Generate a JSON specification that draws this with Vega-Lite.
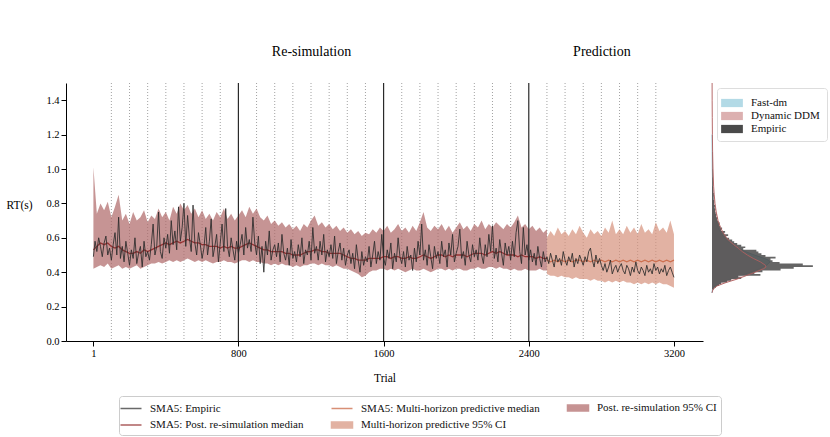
{
  "$schema": "https://vega.github.io/schema/vega-lite/v6.json",
  "padding": {"left": 5, "top": 44, "right": 0, "bottom": 5},
  "bounds": "flush",
  "spacing": 9,
  "config": {
    "font": "Liberation Serif",
    "view": {"stroke": null},
    "axis": {"labelFont": "Liberation Serif", "titleFont": "Liberation Serif", "labelFontSize": 10.5, "titleFontSize": 11.5, "titleFontWeight": "normal", "labelColor": "#000", "titleColor": "#000", "domainColor": "#000", "tickColor": "#000", "grid": false, "tickSize": 5, "labelPadding": 2, "domainWidth": 1, "tickWidth": 1},
    "legend": {"labelFont": "Liberation Serif", "labelFontSize": 11, "labelColor": "#111", "labelLimit": 400}
  },
  "resolve": {"scale": {"color": "independent", "fill": "independent"}, "legend": {"color": "independent", "fill": "independent"}},
  "datasets": {
    "dotted": [{"t":100},{"t":200},{"t":300},{"t":400},{"t":500},{"t":600},{"t":700},{"t":900},{"t":1000},{"t":1100},{"t":1200},{"t":1300},{"t":1400},{"t":1500},{"t":1700},{"t":1800},{"t":1900},{"t":2000},{"t":2100},{"t":2200},{"t":2300},{"t":2500},{"t":2600},{"t":2700},{"t":2800},{"t":2900},{"t":3000},{"t":3100}],
    "solid": [{"t":800},{"t":1600},{"t":2400}],
    "phases": [{"t":1200},{"t":2800}],
    "resim": [
      {"t":1,"med":0.53,"lo":0.42,"hi":1.01},{"t":20,"med":0.55,"lo":0.43,"hi":0.74},{"t":40,"med":0.57,"lo":0.44,"hi":0.80},{"t":60,"med":0.56,"lo":0.43,"hi":0.76},{"t":80,"med":0.57,"lo":0.45,"hi":0.81},{"t":100,"med":0.55,"lo":0.42,"hi":0.72},{"t":120,"med":0.54,"lo":0.43,"hi":0.78},{"t":140,"med":0.55,"lo":0.44,"hi":0.85},{"t":160,"med":0.53,"lo":0.42,"hi":0.70},{"t":180,"med":0.52,"lo":0.43,"hi":0.74},
      {"t":200,"med":0.51,"lo":0.42,"hi":0.68},{"t":220,"med":0.51,"lo":0.43,"hi":0.75},{"t":240,"med":0.52,"lo":0.44,"hi":0.70},{"t":260,"med":0.51,"lo":0.42,"hi":0.72},{"t":280,"med":0.53,"lo":0.43,"hi":0.76},{"t":300,"med":0.52,"lo":0.44,"hi":0.69},{"t":320,"med":0.53,"lo":0.45,"hi":0.73},{"t":340,"med":0.54,"lo":0.45,"hi":0.71},{"t":360,"med":0.55,"lo":0.46,"hi":0.77},{"t":380,"med":0.56,"lo":0.45,"hi":0.72},
      {"t":400,"med":0.57,"lo":0.46,"hi":0.75},{"t":420,"med":0.56,"lo":0.47,"hi":0.70},{"t":440,"med":0.57,"lo":0.46,"hi":0.78},{"t":460,"med":0.58,"lo":0.47,"hi":0.74},{"t":480,"med":0.57,"lo":0.46,"hi":0.80},{"t":500,"med":0.58,"lo":0.47,"hi":0.76},{"t":520,"med":0.59,"lo":0.48,"hi":0.79},{"t":540,"med":0.58,"lo":0.47,"hi":0.74},{"t":560,"med":0.57,"lo":0.46,"hi":0.77},{"t":580,"med":0.57,"lo":0.47,"hi":0.72},
      {"t":600,"med":0.56,"lo":0.46,"hi":0.76},{"t":620,"med":0.56,"lo":0.47,"hi":0.71},{"t":640,"med":0.55,"lo":0.46,"hi":0.74},{"t":660,"med":0.55,"lo":0.45,"hi":0.70},{"t":680,"med":0.55,"lo":0.46,"hi":0.75},{"t":700,"med":0.54,"lo":0.46,"hi":0.72},{"t":720,"med":0.55,"lo":0.47,"hi":0.77},{"t":740,"med":0.54,"lo":0.46,"hi":0.71},{"t":760,"med":0.55,"lo":0.46,"hi":0.74},{"t":780,"med":0.54,"lo":0.45,"hi":0.70},
      {"t":800,"med":0.54,"lo":0.46,"hi":0.73},{"t":820,"med":0.55,"lo":0.47,"hi":0.76},{"t":840,"med":0.56,"lo":0.47,"hi":0.72},{"t":860,"med":0.57,"lo":0.46,"hi":0.78},{"t":880,"med":0.56,"lo":0.47,"hi":0.74},{"t":900,"med":0.55,"lo":0.46,"hi":0.77},{"t":920,"med":0.54,"lo":0.46,"hi":0.72},{"t":940,"med":0.53,"lo":0.45,"hi":0.70},{"t":960,"med":0.53,"lo":0.45,"hi":0.73},{"t":980,"med":0.52,"lo":0.44,"hi":0.68},
      {"t":1000,"med":0.52,"lo":0.45,"hi":0.70},{"t":1020,"med":0.52,"lo":0.44,"hi":0.67},{"t":1040,"med":0.52,"lo":0.45,"hi":0.69},{"t":1060,"med":0.51,"lo":0.44,"hi":0.66},{"t":1080,"med":0.51,"lo":0.44,"hi":0.68},{"t":1100,"med":0.50,"lo":0.43,"hi":0.65},{"t":1120,"med":0.50,"lo":0.44,"hi":0.67},{"t":1140,"med":0.50,"lo":0.43,"hi":0.64},{"t":1160,"med":0.51,"lo":0.44,"hi":0.68},{"t":1180,"med":0.52,"lo":0.44,"hi":0.66},
      {"t":1200,"med":0.52,"lo":0.45,"hi":0.70},{"t":1220,"med":0.53,"lo":0.45,"hi":0.73},{"t":1240,"med":0.53,"lo":0.44,"hi":0.67},{"t":1260,"med":0.52,"lo":0.45,"hi":0.69},{"t":1280,"med":0.52,"lo":0.44,"hi":0.66},{"t":1300,"med":0.51,"lo":0.44,"hi":0.68},{"t":1320,"med":0.51,"lo":0.43,"hi":0.65},{"t":1340,"med":0.51,"lo":0.44,"hi":0.67},{"t":1360,"med":0.51,"lo":0.43,"hi":0.64},{"t":1380,"med":0.50,"lo":0.42,"hi":0.66},
      {"t":1400,"med":0.49,"lo":0.42,"hi":0.63},{"t":1420,"med":0.48,"lo":0.41,"hi":0.65},{"t":1440,"med":0.48,"lo":0.40,"hi":0.62},{"t":1460,"med":0.47,"lo":0.39,"hi":0.64},{"t":1480,"med":0.47,"lo":0.37,"hi":0.61},{"t":1500,"med":0.47,"lo":0.38,"hi":0.63},{"t":1520,"med":0.48,"lo":0.40,"hi":0.62},{"t":1540,"med":0.48,"lo":0.41,"hi":0.65},{"t":1560,"med":0.48,"lo":0.41,"hi":0.63},{"t":1580,"med":0.48,"lo":0.42,"hi":0.66},
      {"t":1600,"med":0.49,"lo":0.42,"hi":0.64},{"t":1620,"med":0.49,"lo":0.41,"hi":0.67},{"t":1640,"med":0.48,"lo":0.42,"hi":0.63},{"t":1660,"med":0.49,"lo":0.41,"hi":0.65},{"t":1680,"med":0.49,"lo":0.42,"hi":0.68},{"t":1700,"med":0.48,"lo":0.41,"hi":0.64},{"t":1720,"med":0.48,"lo":0.40,"hi":0.66},{"t":1740,"med":0.49,"lo":0.41,"hi":0.63},{"t":1760,"med":0.48,"lo":0.42,"hi":0.67},{"t":1780,"med":0.48,"lo":0.41,"hi":0.64},
      {"t":1800,"med":0.49,"lo":0.41,"hi":0.69},{"t":1820,"med":0.50,"lo":0.42,"hi":0.75},{"t":1840,"med":0.49,"lo":0.41,"hi":0.66},{"t":1860,"med":0.48,"lo":0.40,"hi":0.64},{"t":1880,"med":0.49,"lo":0.41,"hi":0.67},{"t":1900,"med":0.50,"lo":0.42,"hi":0.65},{"t":1920,"med":0.50,"lo":0.42,"hi":0.68},{"t":1940,"med":0.49,"lo":0.41,"hi":0.64},{"t":1960,"med":0.50,"lo":0.42,"hi":0.67},{"t":1980,"med":0.49,"lo":0.41,"hi":0.63},
      {"t":2000,"med":0.50,"lo":0.42,"hi":0.66},{"t":2020,"med":0.50,"lo":0.42,"hi":0.69},{"t":2040,"med":0.50,"lo":0.41,"hi":0.65},{"t":2060,"med":0.49,"lo":0.41,"hi":0.67},{"t":2080,"med":0.50,"lo":0.42,"hi":0.64},{"t":2100,"med":0.51,"lo":0.42,"hi":0.68},{"t":2120,"med":0.51,"lo":0.43,"hi":0.66},{"t":2140,"med":0.51,"lo":0.42,"hi":0.70},{"t":2160,"med":0.50,"lo":0.42,"hi":0.65},{"t":2180,"med":0.51,"lo":0.43,"hi":0.68},
      {"t":2200,"med":0.52,"lo":0.43,"hi":0.66},{"t":2220,"med":0.51,"lo":0.42,"hi":0.69},{"t":2240,"med":0.52,"lo":0.43,"hi":0.67},{"t":2260,"med":0.51,"lo":0.42,"hi":0.65},{"t":2280,"med":0.50,"lo":0.42,"hi":0.68},{"t":2300,"med":0.50,"lo":0.41,"hi":0.66},{"t":2320,"med":0.50,"lo":0.42,"hi":0.69},{"t":2340,"med":0.49,"lo":0.41,"hi":0.73},{"t":2360,"med":0.50,"lo":0.41,"hi":0.66},{"t":2380,"med":0.49,"lo":0.42,"hi":0.68},
      {"t":2400,"med":0.49,"lo":0.41,"hi":0.65},{"t":2420,"med":0.49,"lo":0.41,"hi":0.67},{"t":2440,"med":0.48,"lo":0.41,"hi":0.64},{"t":2460,"med":0.49,"lo":0.42,"hi":0.66},{"t":2480,"med":0.48,"lo":0.41,"hi":0.63},{"t":2500,"med":0.48,"lo":0.41,"hi":0.65}
    ],
    "pred": [
      {"t":2500,"pmed":0.47,"plo":0.39,"phi":0.60},{"t":2520,"pmed":0.46,"plo":0.38,"phi":0.64},{"t":2540,"pmed":0.47,"plo":0.38,"phi":0.61},{"t":2560,"pmed":0.46,"plo":0.37,"phi":0.66},{"t":2580,"pmed":0.47,"plo":0.38,"phi":0.62},{"t":2600,"pmed":0.46,"plo":0.37,"phi":0.64},{"t":2620,"pmed":0.47,"plo":0.37,"phi":0.61},{"t":2640,"pmed":0.46,"plo":0.36,"phi":0.65},{"t":2660,"pmed":0.47,"plo":0.37,"phi":0.62},{"t":2680,"pmed":0.47,"plo":0.36,"phi":0.67},
      {"t":2700,"pmed":0.46,"plo":0.36,"phi":0.63},{"t":2720,"pmed":0.47,"plo":0.36,"phi":0.60},{"t":2740,"pmed":0.46,"plo":0.35,"phi":0.65},{"t":2760,"pmed":0.47,"plo":0.36,"phi":0.62},{"t":2780,"pmed":0.46,"plo":0.35,"phi":0.64},{"t":2800,"pmed":0.47,"plo":0.35,"phi":0.61},{"t":2820,"pmed":0.46,"plo":0.34,"phi":0.66},{"t":2840,"pmed":0.47,"plo":0.35,"phi":0.63},{"t":2860,"pmed":0.46,"plo":0.34,"phi":0.70},{"t":2880,"pmed":0.47,"plo":0.35,"phi":0.62},
      {"t":2900,"pmed":0.46,"plo":0.34,"phi":0.65},{"t":2920,"pmed":0.47,"plo":0.35,"phi":0.62},{"t":2940,"pmed":0.46,"plo":0.34,"phi":0.67},{"t":2960,"pmed":0.47,"plo":0.34,"phi":0.63},{"t":2980,"pmed":0.46,"plo":0.33,"phi":0.66},{"t":3000,"pmed":0.47,"plo":0.34,"phi":0.62},{"t":3020,"pmed":0.46,"plo":0.33,"phi":0.68},{"t":3040,"pmed":0.47,"plo":0.34,"phi":0.63},{"t":3060,"pmed":0.46,"plo":0.33,"phi":0.65},{"t":3080,"pmed":0.47,"plo":0.34,"phi":0.62},
      {"t":3100,"pmed":0.46,"plo":0.33,"phi":0.69},{"t":3120,"pmed":0.47,"plo":0.34,"phi":0.64},{"t":3140,"pmed":0.46,"plo":0.33,"phi":0.66},{"t":3160,"pmed":0.47,"plo":0.33,"phi":0.63},{"t":3180,"pmed":0.46,"plo":0.32,"phi":0.70},{"t":3200,"pmed":0.47,"plo":0.31,"phi":0.62}
    ],
    "emp": [
      {"t":1,"e":0.49},
      {"t":10,"e":0.58},{"t":20,"e":0.52},{"t":30,"e":0.60},{"t":40,"e":0.55},{"t":50,"e":0.49},{"t":60,"e":0.57},{"t":70,"e":0.61},{"t":80,"e":0.50},{"t":90,"e":0.54},{"t":100,"e":0.47},
      {"t":110,"e":0.56},{"t":120,"e":0.63},{"t":130,"e":0.50},{"t":140,"e":0.72},{"t":150,"e":0.48},{"t":160,"e":0.55},{"t":170,"e":0.46},{"t":180,"e":0.58},{"t":190,"e":0.51},{"t":200,"e":0.44},
      {"t":210,"e":0.53},{"t":220,"e":0.48},{"t":230,"e":0.60},{"t":240,"e":0.45},{"t":250,"e":0.51},{"t":260,"e":0.55},{"t":270,"e":0.43},{"t":280,"e":0.58},{"t":290,"e":0.49},{"t":300,"e":0.52},
      {"t":310,"e":0.47},{"t":320,"e":0.56},{"t":330,"e":0.68},{"t":340,"e":0.50},{"t":350,"e":0.55},{"t":360,"e":0.75},{"t":370,"e":0.52},{"t":380,"e":0.48},{"t":390,"e":0.60},{"t":400,"e":0.54},
      {"t":410,"e":0.62},{"t":420,"e":0.51},{"t":430,"e":0.70},{"t":440,"e":0.56},{"t":450,"e":0.64},{"t":460,"e":0.53},{"t":470,"e":0.78},{"t":480,"e":0.58},{"t":490,"e":0.66},{"t":500,"e":0.80},
      {"t":510,"e":0.55},{"t":520,"e":0.73},{"t":530,"e":0.60},{"t":540,"e":0.52},{"t":550,"e":0.79},{"t":560,"e":0.57},{"t":570,"e":0.50},{"t":580,"e":0.63},{"t":590,"e":0.56},{"t":600,"e":0.48},
      {"t":610,"e":0.54},{"t":620,"e":0.66},{"t":630,"e":0.50},{"t":640,"e":0.58},{"t":650,"e":0.71},{"t":660,"e":0.49},{"t":670,"e":0.55},{"t":680,"e":0.62},{"t":690,"e":0.46},{"t":700,"e":0.57},
      {"t":710,"e":0.68},{"t":720,"e":0.52},{"t":730,"e":0.77},{"t":740,"e":0.55},{"t":750,"e":0.49},{"t":760,"e":0.60},{"t":770,"e":0.53},{"t":780,"e":0.47},{"t":790,"e":0.58},{"t":800,"e":0.51},
      {"t":810,"e":0.56},{"t":820,"e":0.62},{"t":830,"e":0.50},{"t":840,"e":0.66},{"t":850,"e":0.54},{"t":860,"e":0.59},{"t":870,"e":0.52},{"t":880,"e":0.72},{"t":890,"e":0.57},{"t":900,"e":0.50},
      {"t":910,"e":0.61},{"t":920,"e":0.45},{"t":930,"e":0.55},{"t":940,"e":0.40},{"t":950,"e":0.58},{"t":960,"e":0.50},{"t":970,"e":0.64},{"t":980,"e":0.47},{"t":990,"e":0.53},{"t":1000,"e":0.56},
      {"t":1010,"e":0.49},{"t":1020,"e":0.57},{"t":1030,"e":0.46},{"t":1040,"e":0.62},{"t":1050,"e":0.51},{"t":1060,"e":0.47},{"t":1070,"e":0.54},{"t":1080,"e":0.44},{"t":1090,"e":0.59},{"t":1100,"e":0.48},
      {"t":1110,"e":0.52},{"t":1120,"e":0.46},{"t":1130,"e":0.56},{"t":1140,"e":0.49},{"t":1150,"e":0.60},{"t":1160,"e":0.45},{"t":1170,"e":0.53},{"t":1180,"e":0.50},{"t":1190,"e":0.58},{"t":1200,"e":0.47},
      {"t":1210,"e":0.66},{"t":1220,"e":0.51},{"t":1230,"e":0.55},{"t":1240,"e":0.47},{"t":1250,"e":0.58},{"t":1260,"e":0.50},{"t":1270,"e":0.62},{"t":1280,"e":0.46},{"t":1290,"e":0.53},{"t":1300,"e":0.49},
      {"t":1310,"e":0.56},{"t":1320,"e":0.48},{"t":1330,"e":0.61},{"t":1340,"e":0.45},{"t":1350,"e":0.52},{"t":1360,"e":0.57},{"t":1370,"e":0.47},{"t":1380,"e":0.54},{"t":1390,"e":0.44},{"t":1400,"e":0.50},
      {"t":1410,"e":0.53},{"t":1420,"e":0.45},{"t":1430,"e":0.51},{"t":1440,"e":0.42},{"t":1450,"e":0.56},{"t":1460,"e":0.47},{"t":1470,"e":0.40},{"t":1480,"e":0.52},{"t":1490,"e":0.44},{"t":1500,"e":0.49},
      {"t":1510,"e":0.46},{"t":1520,"e":0.55},{"t":1530,"e":0.43},{"t":1540,"e":0.50},{"t":1550,"e":0.58},{"t":1560,"e":0.45},{"t":1570,"e":0.52},{"t":1580,"e":0.47},{"t":1590,"e":0.62},{"t":1600,"e":0.48},
      {"t":1610,"e":0.44},{"t":1620,"e":0.53},{"t":1630,"e":0.48},{"t":1640,"e":0.57},{"t":1650,"e":0.42},{"t":1660,"e":0.51},{"t":1670,"e":0.46},{"t":1680,"e":0.60},{"t":1690,"e":0.49},{"t":1700,"e":0.45},
      {"t":1710,"e":0.52},{"t":1720,"e":0.43},{"t":1730,"e":0.55},{"t":1740,"e":0.47},{"t":1750,"e":0.50},{"t":1760,"e":0.41},{"t":1770,"e":0.54},{"t":1780,"e":0.46},{"t":1790,"e":0.58},{"t":1800,"e":0.50},
      {"t":1810,"e":0.68},{"t":1820,"e":0.47},{"t":1830,"e":0.53},{"t":1840,"e":0.44},{"t":1850,"e":0.56},{"t":1860,"e":0.49},{"t":1870,"e":0.42},{"t":1880,"e":0.55},{"t":1890,"e":0.48},{"t":1900,"e":0.52},
      {"t":1910,"e":0.45},{"t":1920,"e":0.58},{"t":1930,"e":0.49},{"t":1940,"e":0.53},{"t":1950,"e":0.43},{"t":1960,"e":0.57},{"t":1970,"e":0.50},{"t":1980,"e":0.62},{"t":1990,"e":0.46},{"t":2000,"e":0.51},
      {"t":2010,"e":0.55},{"t":2020,"e":0.65},{"t":2030,"e":0.48},{"t":2040,"e":0.52},{"t":2050,"e":0.44},{"t":2060,"e":0.58},{"t":2070,"e":0.50},{"t":2080,"e":0.46},{"t":2090,"e":0.56},{"t":2100,"e":0.49},
      {"t":2110,"e":0.53},{"t":2120,"e":0.47},{"t":2130,"e":0.60},{"t":2140,"e":0.50},{"t":2150,"e":0.45},{"t":2160,"e":0.56},{"t":2170,"e":0.49},{"t":2180,"e":0.62},{"t":2190,"e":0.52},{"t":2200,"e":0.67},
      {"t":2210,"e":0.48},{"t":2220,"e":0.54},{"t":2230,"e":0.46},{"t":2240,"e":0.59},{"t":2250,"e":0.51},{"t":2260,"e":0.44},{"t":2270,"e":0.57},{"t":2280,"e":0.50},{"t":2290,"e":0.55},{"t":2300,"e":0.47},
      {"t":2310,"e":0.58},{"t":2320,"e":0.49},{"t":2330,"e":0.63},{"t":2340,"e":0.70},{"t":2350,"e":0.52},{"t":2360,"e":0.45},{"t":2370,"e":0.66},{"t":2380,"e":0.50},{"t":2390,"e":0.56},{"t":2400,"e":0.47},
      {"t":2410,"e":0.53},{"t":2420,"e":0.46},{"t":2430,"e":0.51},{"t":2440,"e":0.44},{"t":2450,"e":0.55},{"t":2460,"e":0.48},{"t":2470,"e":0.43},{"t":2480,"e":0.52},{"t":2490,"e":0.46},{"t":2500,"e":0.49},
      {"t":2510,"e":0.45},{"t":2520,"e":0.51},{"t":2530,"e":0.47},{"t":2540,"e":0.43},{"t":2550,"e":0.50},{"t":2560,"e":0.46},{"t":2570,"e":0.48},{"t":2580,"e":0.44},{"t":2590,"e":0.52},{"t":2600,"e":0.47},
      {"t":2610,"e":0.44},{"t":2620,"e":0.49},{"t":2630,"e":0.46},{"t":2640,"e":0.51},{"t":2650,"e":0.43},{"t":2660,"e":0.48},{"t":2670,"e":0.45},{"t":2680,"e":0.50},{"t":2690,"e":0.47},{"t":2700,"e":0.44},
      {"t":2710,"e":0.49},{"t":2720,"e":0.46},{"t":2730,"e":0.52},{"t":2740,"e":0.54},{"t":2750,"e":0.47},{"t":2760,"e":0.43},{"t":2770,"e":0.50},{"t":2780,"e":0.45},{"t":2790,"e":0.48},{"t":2800,"e":0.44},
      {"t":2810,"e":0.41},{"t":2820,"e":0.45},{"t":2830,"e":0.40},{"t":2840,"e":0.43},{"t":2850,"e":0.47},{"t":2860,"e":0.39},{"t":2870,"e":0.42},{"t":2880,"e":0.44},{"t":2890,"e":0.40},{"t":2900,"e":0.43},
      {"t":2910,"e":0.45},{"t":2920,"e":0.41},{"t":2930,"e":0.39},{"t":2940,"e":0.44},{"t":2950,"e":0.42},{"t":2960,"e":0.38},{"t":2970,"e":0.43},{"t":2980,"e":0.40},{"t":2990,"e":0.46},{"t":3000,"e":0.41},
      {"t":3010,"e":0.39},{"t":3020,"e":0.43},{"t":3030,"e":0.41},{"t":3040,"e":0.38},{"t":3050,"e":0.44},{"t":3060,"e":0.40},{"t":3070,"e":0.42},{"t":3080,"e":0.39},{"t":3090,"e":0.45},{"t":3100,"e":0.41},
      {"t":3110,"e":0.43},{"t":3120,"e":0.39},{"t":3130,"e":0.42},{"t":3140,"e":0.40},{"t":3150,"e":0.44},{"t":3160,"e":0.38},{"t":3170,"e":0.41},{"t":3180,"e":0.43},{"t":3190,"e":0.40},{"t":3200,"e":0.37}
    ],
    "ddm": [
      {"rt":0.28,"d":0},{"rt":0.30,"d":0.1},{"rt":0.32,"d":0.5},{"rt":0.34,"d":1.4},{"rt":0.36,"d":2.5},{"rt":0.38,"d":3.4},{"rt":0.40,"d":4.3},{"rt":0.42,"d":5.1},{"rt":0.43,"d":5.35},{"rt":0.44,"d":5.3},{"rt":0.46,"d":4.8},{"rt":0.48,"d":4.1},{"rt":0.50,"d":3.5},{"rt":0.52,"d":3.0},{"rt":0.54,"d":2.6},{"rt":0.56,"d":2.15},{"rt":0.58,"d":1.75},{"rt":0.60,"d":1.45},{"rt":0.63,"d":1.1},{"rt":0.66,"d":0.85},{"rt":0.70,"d":0.6},{"rt":0.75,"d":0.42},{"rt":0.80,"d":0.3},{"rt":0.85,"d":0.22},{"rt":0.90,"d":0.16},{"rt":1.0,"d":0.1},{"rt":1.1,"d":0.06},{"rt":1.2,"d":0.04},{"rt":1.3,"d":0.025},{"rt":1.4,"d":0.015},{"rt":1.5,"d":0.01}
    ],
    "fastdm": [
      {"rt":0.28,"d":0},{"rt":0.30,"d":0.05},{"rt":0.32,"d":0.3},{"rt":0.34,"d":0.9},{"rt":0.36,"d":1.8},{"rt":0.38,"d":2.8},{"rt":0.40,"d":3.8},{"rt":0.42,"d":4.7},{"rt":0.44,"d":5.4},{"rt":0.46,"d":5.75},{"rt":0.47,"d":5.6},{"rt":0.48,"d":5.2},{"rt":0.50,"d":4.2},{"rt":0.52,"d":3.3},{"rt":0.54,"d":2.6},{"rt":0.56,"d":2.0},{"rt":0.58,"d":1.55},{"rt":0.60,"d":1.2},{"rt":0.63,"d":0.85},{"rt":0.66,"d":0.6},{"rt":0.70,"d":0.4},{"rt":0.75,"d":0.25},{"rt":0.80,"d":0.15},{"rt":0.90,"d":0.06},{"rt":1.0,"d":0.03},{"rt":1.2,"d":0.01}
    ],
    "ehist": [
      {"lo":0.29,"d":0},{"lo":0.30,"d":0.2},{"lo":0.31,"d":0.4},{"lo":0.32,"d":0.7},{"lo":0.33,"d":0.9},{"lo":0.34,"d":1.5},{"lo":0.35,"d":1.9},{"lo":0.36,"d":2.9},{"lo":0.37,"d":2.6},{"lo":0.38,"d":4.8},{"lo":0.39,"d":4.2},
      {"lo":0.40,"d":5.0},{"lo":0.41,"d":6.8},{"lo":0.42,"d":8.1},{"lo":0.43,"d":10.0},{"lo":0.44,"d":9.0},{"lo":0.45,"d":6.7},{"lo":0.46,"d":6.0},{"lo":0.47,"d":5.8},{"lo":0.48,"d":6.3},{"lo":0.49,"d":5.3},
      {"lo":0.50,"d":4.9},{"lo":0.51,"d":4.6},{"lo":0.52,"d":4.4},{"lo":0.53,"d":3.1},{"lo":0.54,"d":3.3},{"lo":0.55,"d":2.9},{"lo":0.56,"d":2.5},{"lo":0.57,"d":2.2},{"lo":0.58,"d":2.0},{"lo":0.59,"d":1.7},
      {"lo":0.60,"d":1.4},{"lo":0.61,"d":1.6},{"lo":0.62,"d":1.2},{"lo":0.63,"d":1.3},{"lo":0.64,"d":0.9},{"lo":0.65,"d":1.0},{"lo":0.66,"d":0.8},{"lo":0.67,"d":0.7},{"lo":0.68,"d":0.75},{"lo":0.69,"d":0.6},
      {"lo":0.70,"d":0.5},{"lo":0.71,"d":0.55},{"lo":0.72,"d":0.4},{"lo":0.73,"d":0.45},{"lo":0.74,"d":0.35},{"lo":0.75,"d":0.3},{"lo":0.76,"d":0.35},{"lo":0.77,"d":0.25},{"lo":0.78,"d":0.3},{"lo":0.79,"d":0.2},
      {"lo":0.80,"d":0.22},{"lo":0.82,"d":0.15},{"lo":0.84,"d":0.18},{"lo":0.86,"d":0.12},{"lo":0.88,"d":0.1},{"lo":0.90,"d":0.08},{"lo":0.95,"d":0.06},{"lo":1.0,"d":0.04},{"lo":1.1,"d":0}
    ]
  },
  "hconcat": [
    {
      "width": 637,
      "height": 258,
      "resolve": {"axis": {"x": "independent"}},
      "layer": [
        {
          "data": {"name": "dotted"},
          "mark": {"type": "rule", "color": "#8a8a8a", "strokeWidth": 0.8, "strokeDash": [1, 2]},
          "encoding": {
            "x": {"field": "t", "type": "quantitative", "scale": {"domain": [-150, 3360], "nice": false, "zero": false},
              "axis": {"values": [1, 800, 1600, 2400, 3200], "format": "d", "title": "Trial", "titlePadding": 14, "labelFlush": false}}
          }
        },
        {
          "data": {"name": "phases"},
          "mark": {"type": "rule", "opacity": 0},
          "encoding": {
            "x": {"field": "t", "type": "quantitative", "scale": {"domain": [-150, 3360], "nice": false, "zero": false},
              "axis": {"orient": "top", "values": [1200, 2800], "labelExpr": "datum.value < 2000 ? 'Re-simulation' : 'Prediction'", "domain": false, "ticks": false, "tickSize": 0, "labelFontSize": 14, "labelPadding": 25, "title": null, "labelFlush": false, "labelOverlap": false}}
          }
        },
        {
          "data": {"name": "pred"},
          "mark": {"type": "area", "opacity": 0.7},
          "encoding": {
            "x": {"field": "t", "type": "quantitative", "scale": {"domain": [-150, 3360], "nice": false, "zero": false}, "axis": null},
            "y": {"field": "plo", "type": "quantitative", "scale": {"domain": [0, 1.5], "nice": false, "zero": false},
              "axis": {"values": [0, 0.2, 0.4, 0.6, 0.8, 1.0, 1.2, 1.4], "format": ".1f", "title": "RT(s)", "titleAngle": 0, "titleAlign": "center", "titleBaseline": "middle", "titleX": -47, "titleY": 122}},
            "y2": {"field": "phi"},
            "color": {"datum": "Multi-horizon predictive 95% CI", "type": "nominal",
              "scale": {"domain": ["SMA5: Empiric", "SMA5: Post. re-simulation median", "SMA5: Multi-horizon predictive median", "Multi-horizon predictive 95% CI", "Post. re-simulation 95% CI"],
                        "range": ["#2b2b2b", "#8b1c1c", "#c8603c", "#d6927c", "#ae6666"]},
              "legend": {
                "title": null, "orient": "none", "legendX": 53, "legendY": 313, "columns": 3,
                "columnPadding": 24, "rowPadding": 3, "symbolSize": 196, "labelOffset": 11, "labelFontSize": 11, "labelLimit": 400,
                "padding": 4, "strokeColor": "#cccccc", "cornerRadius": 3, "fillColor": "#ffffff",
                "symbolType": {"expr": "indexof(datum.value + '', '95% CI') >= 0 ? 'M-1.5,-0.42H1.5V0.42H-1.5Z' : 'M-1.5,0H1.5'"},
                "symbolStrokeWidth": 1.5,
                "symbolOpacity": 0.62
              }
            }
          }
        },
        {
          "data": {"name": "resim"},
          "mark": {"type": "area", "opacity": 0.7},
          "encoding": {
            "x": {"field": "t", "type": "quantitative", "scale": {"domain": [-150, 3360], "nice": false, "zero": false}, "axis": null},
            "y": {"field": "lo", "type": "quantitative", "scale": {"domain": [0, 1.5], "nice": false, "zero": false},
              "axis": {"values": [0, 0.2, 0.4, 0.6, 0.8, 1.0, 1.2, 1.4], "format": ".1f", "title": "RT(s)", "titleAngle": 0, "titleAlign": "center", "titleBaseline": "middle", "titleX": -47, "titleY": 122}},
            "y2": {"field": "hi"},
            "color": {"datum": "Post. re-simulation 95% CI", "type": "nominal"}
          }
        },
        {
          "data": {"name": "solid"},
          "mark": {"type": "rule", "color": "#2a2a2a", "strokeWidth": 1.2},
          "encoding": {
            "x": {"field": "t", "type": "quantitative", "scale": {"domain": [-150, 3360], "nice": false, "zero": false}, "axis": null}
          }
        },
        {
          "data": {"name": "pred"},
          "mark": {"type": "line", "strokeWidth": 1.3, "opacity": 0.8},
          "encoding": {
            "x": {"field": "t", "type": "quantitative", "scale": {"domain": [-150, 3360], "nice": false, "zero": false}, "axis": null},
            "y": {"field": "pmed", "type": "quantitative", "scale": {"domain": [0, 1.5], "nice": false, "zero": false},
              "axis": {"values": [0, 0.2, 0.4, 0.6, 0.8, 1.0, 1.2, 1.4], "format": ".1f", "title": "RT(s)", "titleAngle": 0, "titleAlign": "center", "titleBaseline": "middle", "titleX": -47, "titleY": 122}},
            "color": {"datum": "SMA5: Multi-horizon predictive median", "type": "nominal"}
          }
        },
        {
          "data": {"name": "resim"},
          "mark": {"type": "line", "strokeWidth": 1.3, "opacity": 0.8},
          "encoding": {
            "x": {"field": "t", "type": "quantitative", "scale": {"domain": [-150, 3360], "nice": false, "zero": false}, "axis": null},
            "y": {"field": "med", "type": "quantitative", "scale": {"domain": [0, 1.5], "nice": false, "zero": false},
              "axis": {"values": [0, 0.2, 0.4, 0.6, 0.8, 1.0, 1.2, 1.4], "format": ".1f", "title": "RT(s)", "titleAngle": 0, "titleAlign": "center", "titleBaseline": "middle", "titleX": -47, "titleY": 122}},
            "color": {"datum": "SMA5: Post. re-simulation median", "type": "nominal"}
          }
        },
        {
          "data": {"name": "emp"},
          "mark": {"type": "line", "strokeWidth": 1, "opacity": 0.85},
          "encoding": {
            "x": {"field": "t", "type": "quantitative", "scale": {"domain": [-150, 3360], "nice": false, "zero": false}, "axis": null},
            "y": {"field": "e", "type": "quantitative", "scale": {"domain": [0, 1.5], "nice": false, "zero": false},
              "axis": {"values": [0, 0.2, 0.4, 0.6, 0.8, 1.0, 1.2, 1.4], "format": ".1f", "title": "RT(s)", "titleAngle": 0, "titleAlign": "center", "titleBaseline": "middle", "titleX": -47, "titleY": 122}},
            "color": {"datum": "SMA5: Empiric", "type": "nominal"}
          }
        }
      ]
    },
    {
      "width": 116,
      "height": 258,
      "layer": [
        {
          "data": {"name": "fastdm"},
          "mark": {"type": "area", "orient": "horizontal", "interpolate": "linear", "fillOpacity": 0.85},
          "encoding": {
            "y": {"field": "rt", "type": "quantitative", "scale": {"domain": [0, 1.5], "nice": false, "zero": false},
              "axis": {"labels": false, "ticks": false, "domain": true, "title": null, "grid": false}},
            "x": {"field": "d", "type": "quantitative", "stack": null, "scale": {"domain": [0, 11.5], "nice": false, "zero": true}, "axis": null},
            "fill": {"datum": "Fast-dm", "type": "nominal",
              "scale": {"domain": ["Fast-dm", "Dynamic DDM", "Empiric"], "range": ["#b3dae6", "#dcb0b0", "#4a4a4a"]},
              "legend": {
                "title": null, "orient": "none", "legendX": 5, "legendY": 5, "columns": 1,
                "rowPadding": 0, "symbolSize": 225, "labelOffset": 11, "labelFontSize": 11,
                "padding": 7, "strokeColor": "#dddddd", "cornerRadius": 3, "fillColor": "#ffffff",
                "symbolType": "M-1.45,-0.55H1.45V0.55H-1.45Z",
                "symbolStrokeWidth": 1,
                "symbolOpacity": 1
              }
            }
          }
        },
        {
          "data": {"name": "fastdm"},
          "mark": {"type": "line", "interpolate": "linear", "stroke": "#74b6ca", "strokeWidth": 0.9},
          "encoding": {
            "y": {"field": "rt", "type": "quantitative", "scale": {"domain": [0, 1.5], "nice": false, "zero": false}, "axis": null},
            "x": {"field": "d", "type": "quantitative", "scale": {"domain": [0, 11.5], "nice": false, "zero": true}, "axis": null},
            "order": {"field": "rt", "type": "quantitative"}
          }
        },
        {
          "data": {"name": "ddm"},
          "mark": {"type": "area", "orient": "horizontal", "interpolate": "linear", "fillOpacity": 0.6},
          "encoding": {
            "y": {"field": "rt", "type": "quantitative", "scale": {"domain": [0, 1.5], "nice": false, "zero": false}, "axis": null},
            "x": {"field": "d", "type": "quantitative", "stack": null, "scale": {"domain": [0, 11.5], "nice": false, "zero": true}, "axis": null},
            "fill": {"datum": "Dynamic DDM", "type": "nominal"}
          }
        },
        {
          "data": {"name": "ehist"},
          "mark": {"type": "area", "orient": "horizontal", "interpolate": "step-after", "fillOpacity": 0.85},
          "encoding": {
            "y": {"field": "lo", "type": "quantitative", "scale": {"domain": [0, 1.5], "nice": false, "zero": false}, "axis": null},
            "x": {"field": "d", "type": "quantitative", "stack": null, "scale": {"domain": [0, 11.5], "nice": false, "zero": true}, "axis": null},
            "fill": {"datum": "Empiric", "type": "nominal"}
          }
        },
        {
          "data": {"name": "ddm"},
          "mark": {"type": "line", "interpolate": "linear", "stroke": "#b05e5e", "strokeWidth": 1, "opacity": 0.9},
          "encoding": {
            "y": {"field": "rt", "type": "quantitative", "scale": {"domain": [0, 1.5], "nice": false, "zero": false}, "axis": null},
            "x": {"field": "d", "type": "quantitative", "scale": {"domain": [0, 11.5], "nice": false, "zero": true}, "axis": null},
            "order": {"field": "rt", "type": "quantitative"}
          }
        }
      ]
    }
  ]
}
